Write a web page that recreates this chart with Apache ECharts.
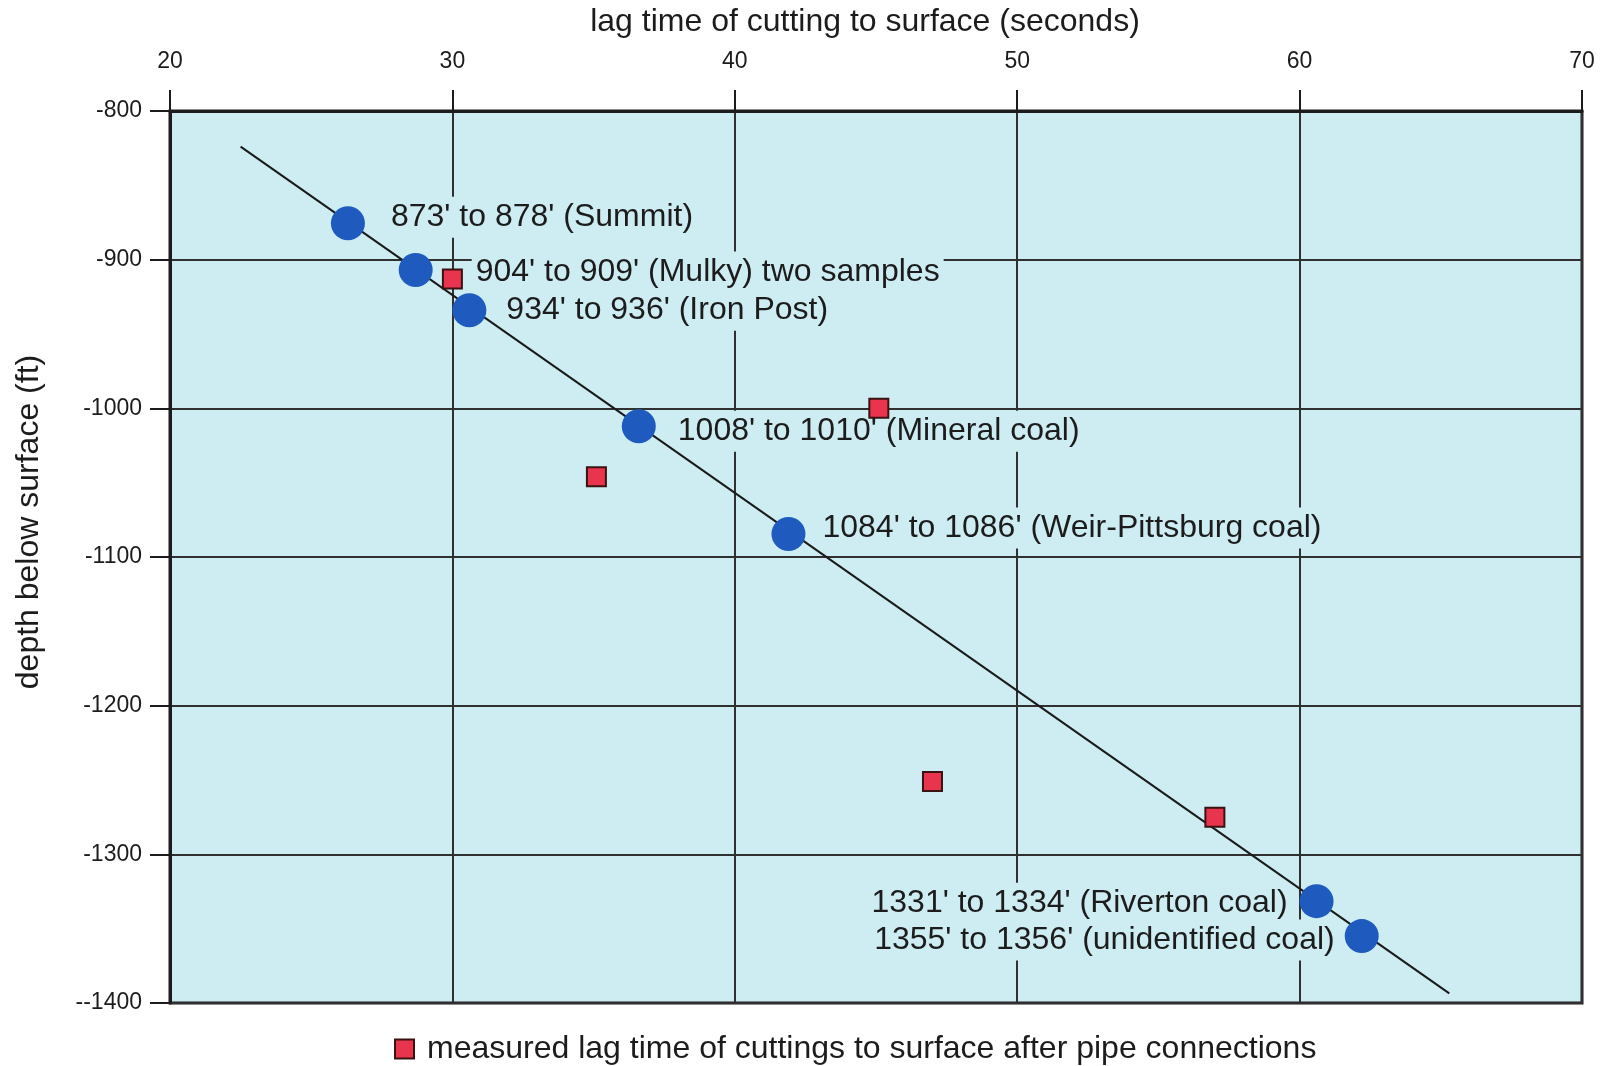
<!DOCTYPE html>
<html>
<head>
<meta charset="utf-8">
<title>Lag time of cuttings vs depth</title>
<script src="https://cdn.jsdelivr.net/npm/echarts@6/dist/echarts.min.js"></script>
<style>
  html, body { margin: 0; padding: 0; background: #ffffff; }
  #chart { width: 1606px; height: 1066px; }
</style>
</head>
<body>
<div id="chart"></div>
<script>
// Coal / formation samples: lag time (s) and depth (ft, negative below surface)
const sampleTime = [26.3, 28.7, 30.6, 36.6, 41.9, 60.6, 62.2];
const sampleDepth = [-875.5, -907, -934, -1012, -1084.5, -1331.5, -1355];
const sampleNames = [
  "873' to 878' (Summit)",
  "904' to 909' (Mulky) two samples",
  "934' to 936' (Iron Post)",
  "1008' to 1010' (Mineral coal)",
  "1084' to 1086' (Weir-Pittsburg coal)",
  "1331' to 1334' (Riverton coal)",
  "1355' to 1356' (unidentified coal)"
];

// Lag times measured after pipe connections
const measuredTime = [30.0, 35.1, 45.1, 47.0, 57.0];
const measuredDepth = [-913, -1046, -1000, -1251, -1275];

// End points of the fitted trend line
const fitTime = [22.5, 65.3];
const fitDepth = [-824, -1393.5];

// Axis ticks
const timeTicks = [20, 30, 40, 50, 60, 70];
const depthTicks = [-800, -900, -1000, -1100, -1200, -1300, -1400];

const measuredName = 'measured lag time of cuttings to surface after pipe connections';

// Label placement around each sample marker: [dx, dy, side]
const labelPlace = [
  [43, -6, 'right'],
  [60, 2, 'right'],
  [37, 0, 'right'],
  [39, 5, 'right'],
  [34, -6, 'right'],
  [-29, 2, 'left'],
  [-27, 4, 'left']
];

const FONT = "'Liberation Sans', Arial, Helvetica, sans-serif";
const INK = '#1c1c1c';
const PLOT_BG = '#cdedf2';
const CIRCLE = 34;
const PAD = 4;

const samplePoints = sampleTime.map((t, i) => [t, sampleDepth[i]]);

// Text for each sample, placed beside its marker; drawn beneath the trend line
const sampleLabelPoints = sampleTime.map((t, i) => {
  const [dx, dy, side] = labelPlace[i];
  const half = (CIRCLE - 4) / 2;
  return {
    value: [t, sampleDepth[i]],
    name: sampleNames[i],
    label: {
      position: side === 'right' ? [half + dx - PAD, half + dy] : [half + dx + PAD, half + dy],
      align: side === 'right' ? 'left' : 'right',
      verticalAlign: 'middle'
    }
  };
});

const measuredPoints = measuredTime.map((t, i) => [t, measuredDepth[i]]);
const fitPoints = fitTime.map((t, i) => [t, fitDepth[i]]);

const chart = echarts.init(document.getElementById('chart'), null, { renderer: 'canvas' });

chart.setOption({
  backgroundColor: '#ffffff',
  animation: false,
  textStyle: { fontFamily: FONT },
  grid: {
    left: 170, right: 24, top: 111, bottom: 63,
    show: true,
    backgroundColor: PLOT_BG,
    borderColor: INK,
    borderWidth: 3
  },
  xAxis: {
    type: 'value',
    position: 'top',
    min: timeTicks[0],
    max: timeTicks[timeTicks.length - 1],
    interval: timeTicks[1] - timeTicks[0],
    axisLine: { show: true, lineStyle: { color: INK, width: 3 } },
    axisTick: { show: true, inside: false, length: 21, lineStyle: { color: INK, width: 2 } },
    axisLabel: { fontSize: 23, color: INK, margin: 38, fontFamily: FONT },
    splitLine: { show: true, lineStyle: { color: '#303030', width: 2 } }
  },
  yAxis: {
    type: 'value',
    min: depthTicks[depthTicks.length - 1],
    max: depthTicks[0],
    interval: depthTicks[0] - depthTicks[1],
    axisLine: { show: true, lineStyle: { color: INK, width: 3 } },
    axisTick: { show: true, inside: false, length: 20, lineStyle: { color: INK, width: 2 } },
    axisLabel: {
      fontSize: 23, color: INK, margin: 28, fontFamily: FONT,
      formatter: v => (v === depthTicks[depthTicks.length - 1] ? '-' + v : String(v))
    },
    splitLine: { show: true, lineStyle: { color: '#303030', width: 2 } }
  },
  legend: {
    data: [measuredName],
    left: 389,
    top: 1028,
    icon: 'rect',
    itemWidth: 19,
    itemHeight: 19,
    textStyle: { fontSize: 32, color: INK, fontFamily: FONT, padding: [0, 0, 0, 8] }
  },
  graphic: [
    {
      type: 'text', x: 865, y: 22,
      style: { text: 'lag time of cutting to surface (seconds)', x: 0, y: 0, align: 'center', verticalAlign: 'middle', font: '32px ' + FONT, fill: INK }
    },
    {
      type: 'text', x: 29, y: 522, rotation: Math.PI / 2,
      style: { text: 'depth below surface (ft)', x: 0, y: 0, align: 'center', verticalAlign: 'middle', font: '32px ' + FONT, fill: INK }
    }
  ],
  series: [
    {
      type: 'scatter',
      name: 'sample labels',
      data: sampleLabelPoints,
      symbol: 'circle',
      symbolSize: CIRCLE - 4,
      z: 1,
      silent: true,
      itemStyle: { color: PLOT_BG, opacity: 1 },
      label: {
        show: true,
        formatter: p => p.name,
        fontSize: 32,
        lineHeight: 37,
        color: INK,
        opacity: 1,
        fontFamily: FONT,
        backgroundColor: PLOT_BG,
        padding: [2, PAD, 2, PAD]
      }
    },
    {
      type: 'line',
      name: 'trend',
      data: fitPoints,
      symbol: 'none',
      z: 2,
      lineStyle: { color: '#1a1a1a', width: 2 }
    },
    {
      type: 'scatter',
      name: 'samples',
      data: samplePoints,
      symbol: 'circle',
      symbolSize: CIRCLE,
      z: 3,
      itemStyle: { color: '#1f5bbf', opacity: 1 }
    },
    {
      type: 'scatter',
      name: measuredName,
      data: measuredPoints,
      symbol: 'rect',
      symbolSize: 19,
      z: 5,
      itemStyle: { color: '#e8344c', borderColor: '#3b1212', borderWidth: 2, opacity: 1 }
    }
  ]
});
</script>
</body>
</html>
